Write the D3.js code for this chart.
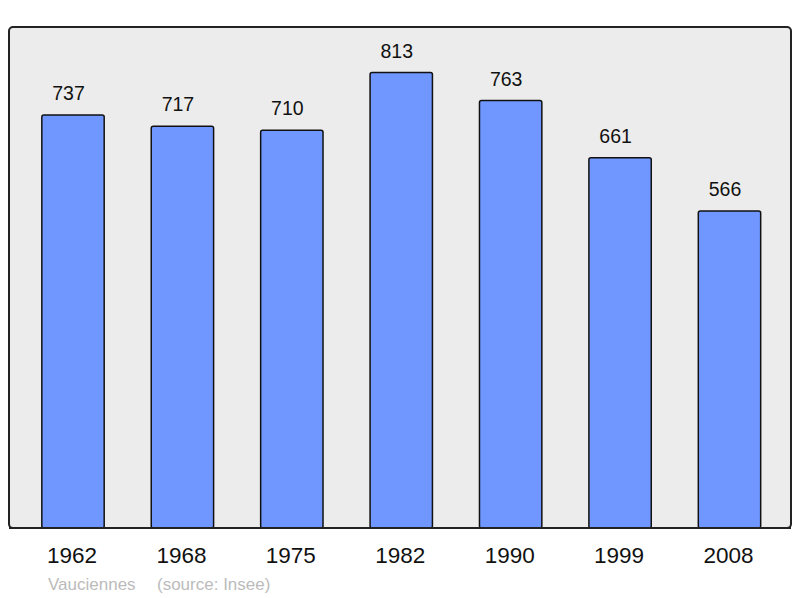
<!DOCTYPE html>
<html><head><meta charset="utf-8">
<script src="https://cdn.jsdelivr.net/npm/d3@7"></script>
<style>body{margin:0;background:#fff}svg{display:block}</style>
</head><body><svg id="c" width="800" height="598"></svg>
<script>
const years = ["1962","1968","1975","1982","1990","1999","2008"];
const population = [737,717,710,813,763,661,566];
const footerName = "Vauciennes";
const footerSource = "(source: Insee)";

const svg = d3.select("#c");
const panel = {x0:9, y0:27, x1:791, y1:528};
svg.append("rect").attr("x",panel.x0).attr("y",panel.y0)
  .attr("width",panel.x1-panel.x0).attr("height",panel.y1-panel.y0)
  .attr("rx",4).attr("fill","#ececec").attr("stroke","#222").attr("stroke-width",2);

const x = d3.scaleBand().domain(years).range([18.3,784.2]).paddingInner(0.43).paddingOuter(0.215);
const y = d3.scaleLinear().domain([0, d3.max(population)*1.1]).range([panel.y1, panel.y0]);

svg.selectAll("rect.bar").data(population).join("rect").attr("class","bar")
  .attr("x",(d,i)=>x(years[i])).attr("y",d=>y(d))
  .attr("width",x.bandwidth()).attr("height",d=>y(0)-y(d))
  .attr("rx",2).attr("fill","#7097ff").attr("stroke","#111").attr("stroke-width",1.5);

svg.selectAll("text.val").data(population).join("text").attr("class","val")
  .attr("x",(d,i)=>x(years[i])+x.bandwidth()/2-4.5).attr("y",d=>y(d)-15)
  .attr("text-anchor","middle").attr("font-family","Liberation Sans, Arial, sans-serif")
  .attr("font-size",19.5).attr("fill","#111").text(d=>d);

svg.append("line").attr("x1",panel.x0).attr("x2",panel.x1).attr("y1",panel.y1).attr("y2",panel.y1)
  .attr("stroke","#222").attr("stroke-width",2);

const xAxis = svg.append("g").attr("transform",`translate(0,${panel.y1})`)
  .call(d3.axisBottom(x).tickSize(0).tickPadding(19));
xAxis.select(".domain").remove();
xAxis.selectAll("text").attr("font-family","Liberation Sans, Arial, sans-serif")
  .attr("font-size",22.5).attr("fill","#111").attr("dx",-1);

svg.append("text").attr("x",48).attr("y",590).attr("font-family","Liberation Sans, Arial, sans-serif")
  .attr("font-size",17).attr("fill","#bbb").text(footerName);
svg.append("text").attr("x",157).attr("y",590).attr("font-family","Liberation Sans, Arial, sans-serif")
  .attr("font-size",17).attr("fill","#bbb").text(footerSource);
</script></body></html>
